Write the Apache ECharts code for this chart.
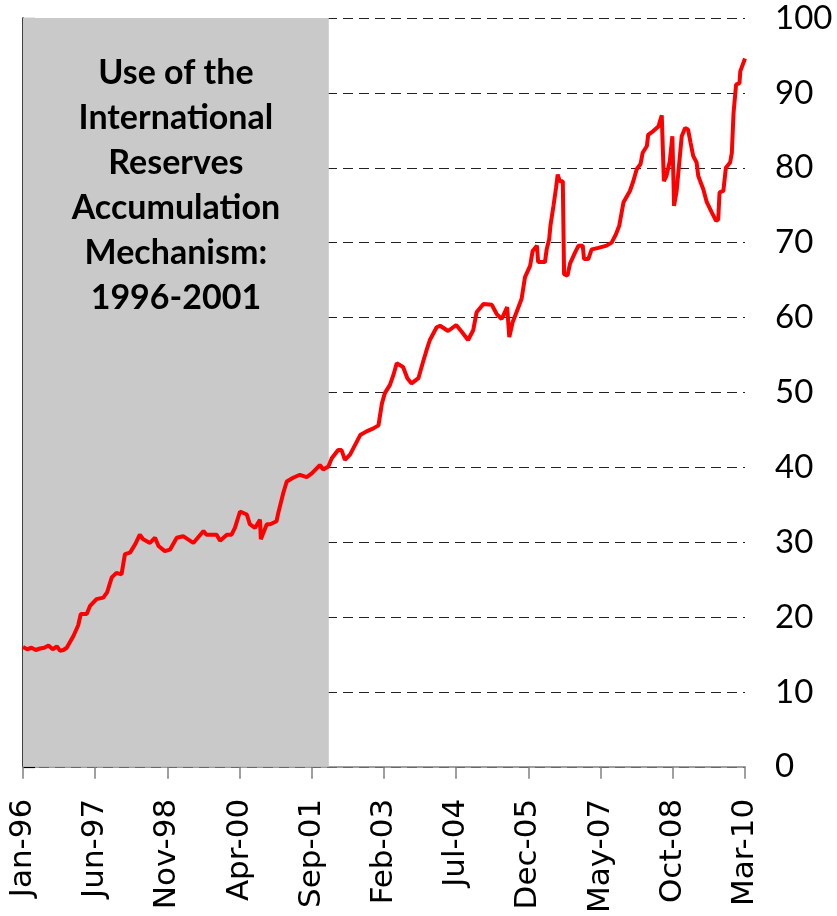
<!DOCTYPE html>
<html>
<head>
<meta charset="utf-8">
<script src="https://cdn.jsdelivr.net/npm/echarts@6.0.0/dist/echarts.min.js"></script>
<style>
html,body{margin:0;padding:0;background:#fff;}
#chart{width:837px;height:916px;}
</style>
</head>
<body>
<div id="chart"></div>
<script>
// Months elapsed since Jan-96 (fractional where the line changes sharply)
var monthIdx = [0,1,2,3,4,5,6,7,8,8.7,9.5,10.3,11,11.9,13,13.6,15,15.8,17.3,18.9,19.8,20.9,22,23.2,24,25.2,26.4,27.5,28.3,29.9,31.1,31.9,33.4,34.6,36.2,37.7,40.1,42.5,43.2,45.6,46.4,48,49.1,49.9,51.1,52.7,53.4,54.6,55.8,56,57.4,58.2,59.7,60.1,61.3,62.1,63.6,65.2,66.8,68,69.9,70.7,71.9,72.7,74.2,75,75.8,77,78.2,79.4,80.9,82.5,83.7,84.5,85.2,86.4,87.2,88,89.5,90.5,91.5,93.1,94.1,95,95.8,97.4,98.2,100.1,102,103.3,104.8,106,106.8,108.4,110.4,111.5,112.7,114,114.5,115.3,116.2,117.4,118.2,119.4,120,121,121.3,122.9,123.3,123.9,124.2,124.9,125.5,125.9,126.4,127.1,127.4,128.2,128.8,130,130.8,131.8,132.1,133.1,133.9,135.5,137.4,138.6,139.6,140.4,141.4,142.9,143.7,144.5,145.4,145.9,146.9,147.2,148.4,149.6,150.4,150.9,151.5,152.3,152.9,153.3,153.9,155.1,155.9,156.6,157.2,157.8,158.6,159,160.2,161,162.2,163.2,163.7,164,164.9,165.5,166.5,166.9,167.3,167.9,168.7,168.9,170];
var indexValue = [16.0,15.7,15.9,15.6,15.8,15.9,16.2,15.7,16.1,15.5,15.6,15.9,16.6,17.5,18.9,20.4,20.4,21.5,22.4,22.6,23.3,25.3,25.9,25.7,28.4,28.6,29.7,31.0,30.4,29.9,30.6,29.5,28.8,29.0,30.6,30.8,29.9,31.5,31.0,31.0,30.2,31.0,31.0,31.9,34.1,33.7,32.4,31.9,33.0,30.4,32.4,32.4,32.8,33.9,36.6,38.1,38.6,39.0,38.7,39.2,40.3,39.7,40.1,41.2,42.3,42.3,41.0,41.7,43.0,44.3,44.8,45.2,45.6,48.5,49.9,51.0,52.3,53.9,53.4,51.9,51.2,51.9,53.9,55.6,57.0,58.7,58.9,58.2,59.0,58.1,57.0,58.3,60.7,61.8,61.7,60.5,59.8,61.4,57.4,59.4,60.7,62.5,65.4,66.9,68.9,69.6,67.4,67.4,69.1,70.5,72.3,74.9,77.3,79.1,78.2,78.2,65.8,65.6,67.2,68.7,69.6,69.6,67.8,67.8,69.1,69.3,69.6,70.0,71.1,72.3,75.4,76.9,78.2,79.8,80.5,82.0,82.9,84.4,84.9,85.5,87.0,78.2,78.9,80.9,84.2,74.9,76.9,84.2,85.3,85.1,83.3,81.6,80.7,78.9,77.1,75.4,74.0,72.9,73.1,76.7,76.9,80.0,80.7,82.0,87.3,91.1,91.3,92.9,94.6];
var xTickLabels = ['Jan-96','Jun-97','Nov-98','Apr-00','Sep-01','Feb-03','Jul-04','Dec-05','May-07','Oct-08','Mar-10'];
var yTickValues = [0,10,20,30,40,50,60,70,80,90,100];
var shadeStart = 0, shadeEnd = 72; // Jan-96 to end of 2001
var shadeText = 'Use of the\nInternational\nReserves\nAccumulation\nMechanism:\n1996-2001';

var seriesData = monthIdx.map(function(m, i){ return [m, indexValue[i]]; });

var chart = echarts.init(document.getElementById('chart'), null, {renderer:'canvas'});
chart.setOption({
  animation: false,
  backgroundColor: '#ffffff',
  grid: {left: 23, right: 92, top: 18, bottom: 146, containLabel: false},
  xAxis: {
    type: 'value', min: 0, max: 170, interval: 17,
    axisLine: {show: true, onZero: false, lineStyle: {color: '#808080', width: 1.5}},
    axisTick: {show: true, length: 12, lineStyle: {color: '#808080', width: 1.5}},
    splitLine: {show: false},
    axisLabel: {
      rotate: 90, margin: 32, fontFamily: '"DejaVu Sans", Verdana, sans-serif', fontSize: 31, color: '#000',
      formatter: function(v){ return xTickLabels[Math.round(v/17)] || ''; }
    }
  },
  yAxis: {
    type: 'value', position: 'right', min: yTickValues[0], max: yTickValues[yTickValues.length-1], interval: 10,
    axisLine: {show: true, lineStyle: {color: '#000', width: 1.5}},
    axisTick: {show: true, length: 12, lineStyle: {color: '#000', width: 1.2}},
    splitLine: {show: true, lineStyle: {color: '#222', width: 1, type: [10, 6]}},
    axisLabel: {margin: 30, fontFamily: 'Lato', fontSize: 33, color: '#000'}
  },
  series: [{
    type: 'line',
    data: seriesData,
    showSymbol: false,
    smooth: false,
    lineStyle: {color: '#ff0000', width: 4},
    z: 5,
    markArea: {
      silent: true,
      itemStyle: {color: '#c9c9c9'},
      label: {
        show: true, position: 'insideTop', distance: 33,
        fontFamily: 'Lato', fontWeight: 'bold', fontSize: 34, lineHeight: 45,
        color: '#000', align: 'center'
      },
      data: [[{xAxis: shadeStart, name: shadeText}, {xAxis: shadeEnd}]]
    }
  }]
});
</script>
</body>
</html>
